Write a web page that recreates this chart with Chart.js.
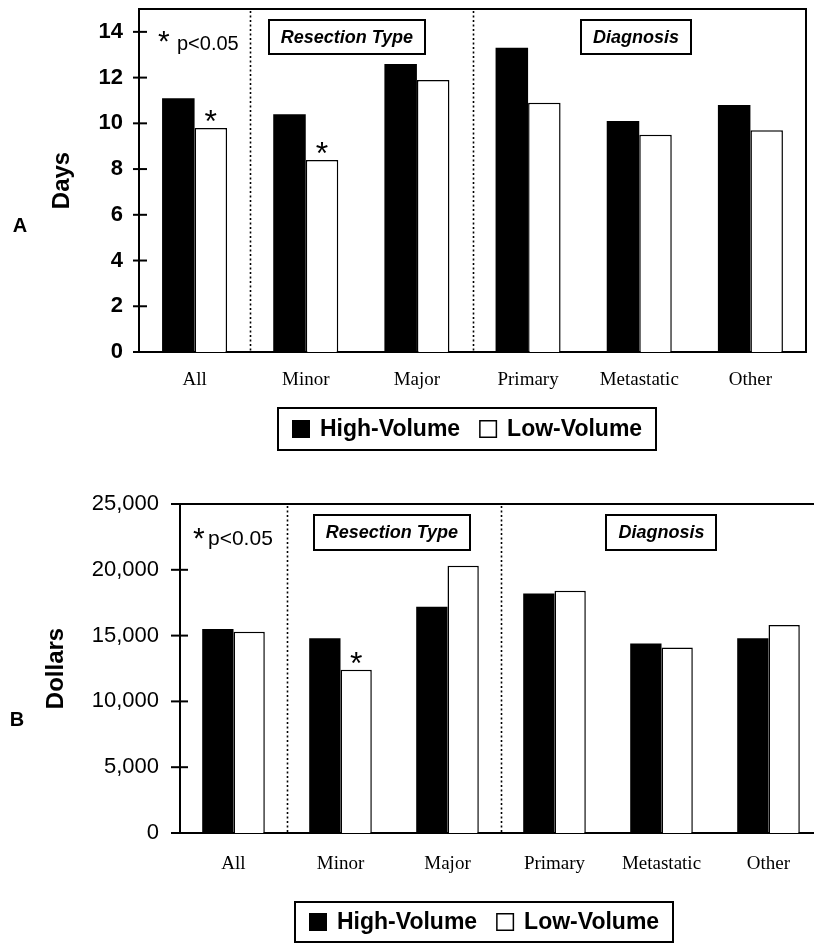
<!DOCTYPE html>
<html>
<head>
<meta charset="utf-8">
<script src="https://cdn.jsdelivr.net/npm/chart.js@4.4.0/dist/chart.umd.min.js"></script>
<style>
  html, body { margin: 0; padding: 0; background: #fff; overflow: hidden; width: 814px; height: 943px; }
  #days { position: absolute; left: 0; top: 0; }
  #cost { position: absolute; left: 0; top: 460px; }
</style>
</head>
<body>
<canvas id="days" width="814" height="460"></canvas>
<canvas id="cost" width="830" height="483"></canvas>
<script>
const categories = ['All', 'Minor', 'Major', 'Primary', 'Metastatic', 'Other'];
const seriesNames = ['High-Volume', 'Low-Volume'];
const daysHigh = [11.1, 10.4, 12.6, 13.3, 10.1, 10.8];
const daysLow = [9.8, 8.4, 11.9, 10.9, 9.5, 9.7];
const costHigh = [15500, 14800, 17200, 18200, 14400, 14800];
const costLow = [15300, 12400, 20300, 18400, 14100, 15800];
const daysTicks = [0, 2, 4, 6, 8, 10, 12, 14];
const costTicks = [0, 5000, 10000, 15000, 20000, 25000];
// low-volume bars flagged with * (p<0.05)
const daysSignificant = ['All', 'Minor'];
const costSignificant = ['Minor'];
// dotted separators go before these categories
const groupStarts = ['Minor', 'Primary'];
const groupNames = ['Resection Type', 'Diagnosis'];
const pNote = 'p<0.05';

const SANS = '"Liberation Sans", Arial, Helvetica, sans-serif';
const SERIF = '"Liberation Serif", "Times New Roman", serif';

const frame = {
  id: 'frame',
  afterDraw(chart, args, opts) {
    const {ctx, chartArea: area, scales: {x, y}} = chart;
    ctx.save();
    ctx.strokeStyle = '#000';
    ctx.fillStyle = '#000';

    // tick marks crossing the y axis
    ctx.lineWidth = 2;
    y.ticks.forEach(t => {
      const py = y.getPixelForValue(t.value);
      ctx.beginPath();
      ctx.moveTo(area.left - opts.tickOut, py);
      ctx.lineTo(area.left + opts.tickIn, py);
      ctx.stroke();
    });

    // top edge (and right edge for panel A)
    ctx.beginPath();
    ctx.moveTo(area.left, area.top);
    ctx.lineTo(area.right, area.top);
    if (opts.rightSide) ctx.lineTo(area.right, area.bottom);
    ctx.stroke();

    // dotted group separators
    ctx.lineWidth = 1.6;
    ctx.setLineDash([2, 2.5]);
    groupStarts.forEach(name => {
      const i = categories.indexOf(name);
      const px = Math.round((x.getPixelForValue(i - 1) + x.getPixelForValue(i)) / 2) + 0.5;
      ctx.beginPath();
      ctx.moveTo(px, area.top + 2);
      ctx.lineTo(px, area.bottom);
      ctx.stroke();
    });
    ctx.setLineDash([]);

    // group label boxes
    ctx.font = 'italic bold 18px ' + SANS;
    ctx.textBaseline = 'middle';
    ctx.textAlign = 'center';
    groupNames.forEach((name, k) => {
      const cx = x.getPixelForValue(opts.groupAt[k]);
      const w = ctx.measureText(name).width + 24;
      const top = area.top + opts.boxTop;
      ctx.lineWidth = 2;
      ctx.strokeRect(Math.round(cx - w / 2), top, Math.round(w), opts.boxH);
      ctx.fillText(name, cx, top + opts.boxH / 2 + 1);
    });

    // significance note
    ctx.textAlign = 'left';
    ctx.textBaseline = 'alphabetic';
    ctx.font = '30px ' + SANS;
    ctx.fillText('*', area.left + opts.note.starX, area.top + opts.note.starY);
    ctx.font = opts.note.size + 'px ' + SANS;
    ctx.fillText(pNote, area.left + opts.note.textX, area.top + opts.note.textY);

    // asterisks over significant low-volume bars
    ctx.font = '32px ' + SANS;
    ctx.textAlign = 'center';
    const lowMeta = chart.getDatasetMeta(1);
    opts.significant.forEach(name => {
      const bar = lowMeta.data[categories.indexOf(name)];
      ctx.fillText('*', bar.x, bar.y + 4);
    });

    // panel letter
    ctx.font = 'bold 20px ' + SANS;
    ctx.textBaseline = 'middle';
    ctx.fillText(opts.letter.text, opts.letter.x, opts.letter.y);

    // boxed legend
    const lg = opts.legend;
    ctx.font = 'bold 23px ' + SANS;
    ctx.textAlign = 'left';
    const items = chart.data.datasets.map(ds => ({
      label: ds.label, fill: ds.backgroundColor, w: ctx.measureText(ds.label).width
    }));
    const sq = 18, gapSq = 10, gapItem = 19, pad = 14;
    const w = pad * 2 + items.reduce((s, it) => s + sq + gapSq + it.w, 0) + gapItem * (items.length - 1);
    ctx.lineWidth = 2;
    ctx.strokeRect(lg.left, lg.top, Math.round(w), lg.height);
    let cx = lg.left + pad;
    const cy = lg.top + lg.height / 2;
    items.forEach(it => {
      ctx.fillStyle = it.fill;
      ctx.fillRect(cx, cy - sq / 2, sq, sq);
      ctx.lineWidth = 1.5;
      ctx.strokeRect(cx + 0.75, cy - sq / 2 + 0.75, sq - 1.5, sq - 1.5);
      ctx.fillStyle = '#000';
      ctx.fillText(it.label, cx + sq + gapSq, cy + 1);
      cx += sq + gapSq + it.w + gapItem;
    });
    ctx.restore();
  }
};

function makeChart(id, high, low, tickValues, cfg) {
  return new Chart(document.getElementById(id), {
    type: 'bar',
    data: {
      labels: categories,
      datasets: [
        { label: seriesNames[0], data: high, backgroundColor: '#000', borderWidth: 0 },
        { label: seriesNames[1], data: low, backgroundColor: '#fff', borderColor: '#000', borderWidth: 1.5 }
      ]
    },
    options: {
      responsive: false,
      animation: false,
      devicePixelRatio: 1,
      layout: { padding: { top: cfg.padTop, right: 8, left: 0, bottom: 0 } },
      datasets: { bar: { categoryPercentage: 0.585, barPercentage: 1.0 } },
      scales: {
        x: {
          grid: { display: false, drawTicks: false },
          border: { display: true, color: '#000', width: 2 },
          ticks: { color: '#000', font: { family: SERIF, size: 19 }, padding: cfg.xPad, maxRotation: 0, autoSkip: false },
          afterFit: s => { s.height = cfg.xHeight; }
        },
        y: {
          min: 0,
          max: cfg.max,
          grid: { display: false, drawTicks: false },
          border: { display: true, color: '#000', width: 2 },
          ticks: { color: '#000', padding: cfg.yPad, font: { family: SANS, size: 22, weight: cfg.tickWeight } },
          afterBuildTicks: s => { s.ticks = tickValues.map(v => ({ value: v })); },
          title: {
            display: true, text: cfg.title, color: '#000',
            font: { family: SANS, size: 24, weight: 'bold' },
            padding: { top: cfg.titlePad, bottom: 0 }
          },
          afterFit: s => {
            s.width = cfg.yWidth;
            s.paddingTop = 0;
            s.paddingBottom = 0;
          }
        }
      },
      plugins: {
        legend: { display: false },
        tooltip: { enabled: false },
        frame: cfg.frame
      }
    },
    plugins: [frame]
  });
}

makeChart('days', daysHigh, daysLow, daysTicks, {
  padTop: 9, xHeight: 108, yWidth: 139, xPad: 17, yPad: 16,
  max: 15, tickWeight: 'bold', title: 'Days', titlePad: 47.6,
  frame: {
    tickOut: 6, tickIn: 8, rightSide: true,
    groupAt: [1.37, 3.97], boxTop: 11, boxH: 34,
    note: { starX: 19, starY: 42, textX: 38, textY: 41, size: 20 },
    significant: daysSignificant,
    letter: { text: 'A', x: 20, y: 226 },
    legend: { left: 278, top: 408, height: 42 }
  }
});

makeChart('cost', costHigh, costLow, costTicks, {
  padTop: 44, xHeight: 110, yWidth: 180, xPad: 20, yPad: 21,
  max: 25000, tickWeight: 'normal', title: 'Dollars', titlePad: 41.6,
  frame: {
    tickOut: 9, tickIn: 8, rightSide: false,
    groupAt: [1.48, 4.0], boxTop: 11, boxH: 35,
    note: { starX: 13, starY: 44, textX: 28, textY: 41, size: 21 },
    significant: costSignificant,
    letter: { text: 'B', x: 17, y: 260 },
    legend: { left: 295, top: 442, height: 40 }
  }
});
</script>
</body>
</html>
